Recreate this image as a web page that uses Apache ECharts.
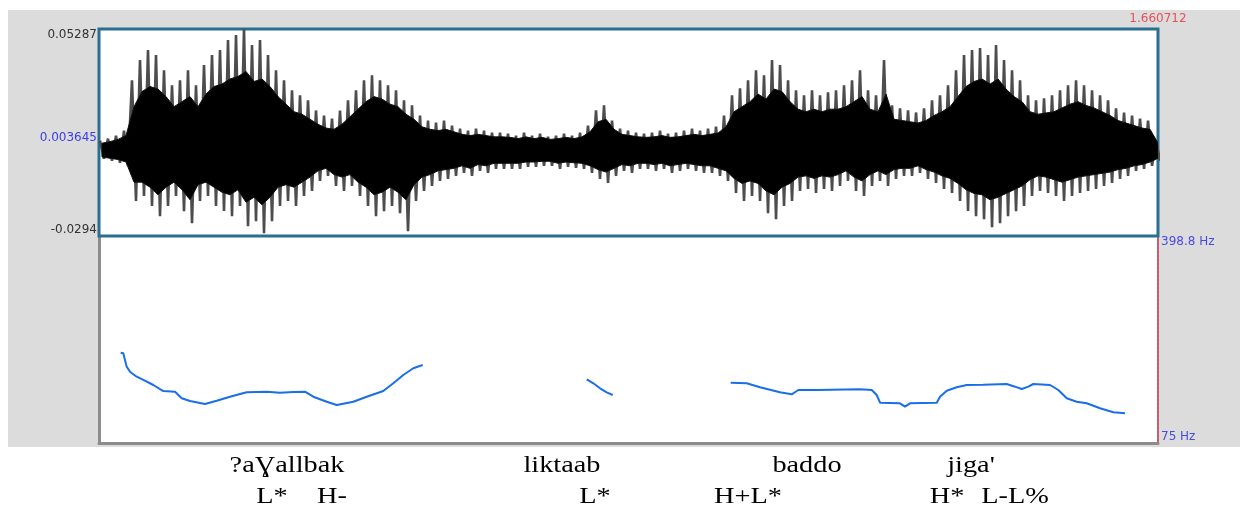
<!DOCTYPE html>
<html>
<head>
<meta charset="utf-8">
<script src="https://cdn.jsdelivr.net/npm/echarts@6/dist/echarts.min.js"></script>
<style>
html,body{margin:0;padding:0;background:#fff;}
#chart{width:1244px;height:510px;}
</style>
</head>
<body>
<div id="chart"></div>
<script>
// ---- Data ----
const duration = 1.660712;              // s
const pitchMin = 75, pitchMax = 398.8;  // Hz
const ampMin = -29.4, ampMax = 52.87;   // amplitude in thousandths
const ampLabels = ['-0.0294', '0.05287'];
const ampCursorLabel = '0.003645';
const timeLabel = '1.660712';
const pitchLabels = ['75 Hz', '398.8 Hz'];

// waveform envelope columns (thousandths), one column every waveStep seconds
const waveStart = 0.001568;
const waveStep = 0.012546;
const outerTop = [8.5,9.3,10.5,12.5,32.5,40.5,44.5,42.5,36.5,30.5,
  32.5,36.5,30.5,38.5,42.5,44.5,48.5,50.5,52.8,46.5,
  48.5,42.5,36.5,32.5,28.5,26.5,24.5,20.5,18.5,17.3,
  20.5,24.5,28.5,32.5,34.5,32.5,30.5,28.5,24.5,22.5,
  18.5,16.5,15.7,16.5,14.5,13.3,12.5,13.3,12.5,11.7,
  11.7,11.3,10.5,11.7,10.5,11.3,10.1,10.5,11.3,10.5,
  11.7,14.5,20.5,22.5,16.5,13.3,12.5,11.7,11.3,11.7,
  12.5,11.3,11.7,12.5,13.3,12.5,13.3,14.1,18.5,26.5,
  29.3,32.5,36.5,34.5,40.5,38.5,32.5,28.5,26.5,28.5,
  26.5,27.7,28.5,30.5,32.5,36.5,28.5,26.5,40.5,22.5,
  21.3,20.5,19.7,21.3,24.5,26.5,30.5,36.5,42.5,44.5,
  45.3,42.5,46.5,40.5,36.5,32.5,26.5,24.5,25.3,26.5,
  28.5,30.5,32.5,30.5,28.5,26.5,24.5,21.3,19.7,18.5,
  17.3,16.5,8.5];
const outerBottom = [1.3,0.5,-0.3,-1.5,-15.5,-13.5,-17.5,-21.5,-17.5,-13.5,
  -19.5,-24.3,-15.5,-13.5,-17.5,-19.5,-21.5,-17.5,-25.5,-23.5,
  -28.3,-23.5,-17.5,-15.5,-17.5,-13.5,-11.5,-7.5,-5.5,-9.5,
  -11.5,-9.5,-13.5,-17.5,-21.5,-19.5,-17.5,-20.3,-27.5,-15.5,
  -11.5,-9.5,-7.5,-6.7,-5.5,-4.3,-5.5,-3.5,-4.3,-2.7,
  -2.7,-2.7,-2.7,-1.9,-1.9,-1.5,-1.5,-2.7,-1.9,-2.3,
  -2.7,-4.3,-6.7,-8.3,-5.5,-3.5,-4.3,-2.7,-2.7,-3.5,
  -2.7,-4.3,-3.5,-2.7,-3.5,-4.3,-4.3,-5.5,-7.5,-12.3,
  -15.5,-13.5,-15.5,-20.3,-22.7,-17.5,-15.5,-11.5,-10.7,-12.3,
  -10.7,-11.5,-9.5,-7.5,-11.5,-13.5,-9.5,-7.5,-9.5,-6.7,
  -5.5,-5.5,-4.3,-6.7,-8.3,-10.7,-12.3,-15.5,-19.5,-21.5,
  -22.7,-25.9,-24.3,-21.5,-19.5,-17.5,-13.5,-11.5,-12.3,-13.5,
  -15.5,-13.5,-12.3,-11.5,-10.7,-9.5,-8.3,-6.7,-5.5,-3.5,
  -2.7,-1.5,0.5];
const coreTop = [7.5,8.1,9.0,10.5,22,28,30,29,26,22,
  24,26,22,27,30,31,33,34,36,32,
  33,30,26,23,20,19,17,15,13.5,13,
  15,18,21,24,26,25,23,22,19,17,
  14,13,12.5,13,12,11,10.5,11,10.5,10,
  10,9.8,9.3,10,9.3,9.8,9,9.3,9.8,9.3,
  10,12,16,17,13,11,10.5,10,9.8,10,
  10.5,9.8,10,10.5,11,10.5,11,11.5,14,20,
  22,24,27,25,29,28,24,21,20,21,
  20,21,21,22,24,26,21,20,27,17,
  16.5,16,15.5,16.5,18.5,20,22,26,30,32,
  33,31,33,29,26,24,20,19,19.5,20,
  21.5,23,24,22.5,21.5,20,18.5,16.5,15.5,14.5,
  13.5,13,7.5];
const coreBottom = [2,1.5,1,0,-8,-8,-10,-13,-10,-8,
  -11,-15,-9,-8,-10,-12,-13,-11,-16,-14,
  -17,-14,-10,-9,-10,-8,-6,-3.5,-2.5,-5,
  -6,-5,-8,-10,-13,-12,-10,-12,-15,-9,
  -6,-5,-3.5,-3,-2.5,-1.5,-2.5,-1,-1.5,-0.5,
  -0.5,-0.5,-0.5,0,0,0.3,0.3,-0.5,0,-0.3,
  -0.5,-1.5,-3,-4,-2.5,-1,-1.5,-0.5,-0.5,-1,
  -0.5,-1.5,-1,-0.5,-1,-1.5,-1.5,-2.5,-3.5,-6.5,
  -8.5,-7.5,-8.5,-11.5,-13,-10,-8.5,-6,-5.5,-6.5,
  -5.5,-6,-5,-3.5,-6,-7.5,-5,-3.5,-5,-3,
  -2.5,-2.5,-1.5,-3,-4,-5.5,-6.5,-8.5,-11,-12.5,
  -13,-15,-14,-12.5,-11,-9.5,-7,-5.5,-6,-7,
  -8,-7,-6,-5.5,-5,-4.5,-4,-3,-2.5,-1.5,
  -1,0,1.5];

// pitch track (null = unvoiced gap)
const pitchTime = [0.0340,0.0381,0.0434,0.0486,0.0591,0.0695,0.0852,0.1008,0.1192,0.1297,
  0.1427,0.1662,0.1846,0.2054,0.2316,0.2630,0.2838,0.3047,0.3230,0.3361,
  0.3571,0.3728,0.3988,0.4198,0.4458,0.4615,0.4772,0.4929,0.5076,
  0.60,
  0.7648,0.7752,0.7857,0.7962,0.8056,
  0.90,
  0.9906,1.0157,1.0366,1.0679,1.0863,1.0967,1.1255,1.1934,1.2118,1.2196,
  1.2248,1.2561,1.2640,1.2718,1.3137,1.3189,1.3294,1.3451,1.3607,1.3868,
  1.4234,1.4365,1.4470,1.4573,1.4652,1.4914,1.5044,1.5176,1.5332,1.5489,
  1.5698,1.5907,1.6090];
const pitchHz = [216.3,215.3,194.4,186.5,178.7,173.6,165.7,156.3,155.3,144.9,
  140.7,136.0,141.2,147.4,154.3,155.3,153.7,154.8,155.3,147.4,
  139.6,134.4,139.6,147.4,156.3,168.4,181.4,191.9,197.0,
  null,
  174.6,168.4,160.6,154.3,150.1,
  null,
  169.3,168.4,162.1,154.3,151.2,157.9,157.9,159.0,157.9,150.1,
  138.0,137.1,131.8,137.1,138.0,147.4,156.8,162.1,165.7,166.2,
  167.3,163.1,159.5,163.1,167.3,165.7,157.9,144.9,139.6,137.1,
  129.3,123.0,121.5];

// transcription tiers
const words = [
  {text: '?aƔallbak', x: 287},
  {text: 'liktaab', x: 562},
  {text: 'baddo', x: 807},
  {text: "jiga'", x: 971}
];
const tones = [
  {text: 'L*', x: 272},
  {text: 'H-', x: 332},
  {text: 'L*', x: 595},
  {text: 'H+L*', x: 748},
  {text: 'H*', x: 947},
  {text: 'L-L%', x: 1015}
];

// ---- Build tables ----
const n = Math.min(outerTop.length, outerBottom.length);
const outerWave = [];
for (let i = 0; i < n; i++) {
  const t = waveStart + i * waveStep;
  outerWave.push([t, outerTop[i]]);
  outerWave.push([t + waveStep / 2, outerBottom[i]]);
}
const m = Math.min(coreTop.length, coreBottom.length);
const coreRows = [];
for (let i = 0; i < m; i++) {
  coreRows.push([waveStart + i * waveStep + waveStep / 4, coreTop[i], coreBottom[i]]);
}
const pitchData = pitchTime.map((t, i) => [t, pitchHz[i]]);

const serif = '"Liberation Serif","Times New Roman","DejaVu Serif",serif';
const sans = '"DejaVu Sans","Liberation Sans",sans-serif';

const graphic = [
  {type: 'rect', z: -100, silent: true, shape: {x: 8, y: 10, width: 1232, height: 437}, style: {fill: '#dcdcdc'}},
  {type: 'text', x: 97, y: 138, z: 100, style: {text: ampCursorLabel, fill: '#3c3ce6', font: '12px ' + sans, textAlign: 'right', textVerticalAlign: 'middle'}}
];
words.forEach(w => graphic.push({type: 'text', x: w.x, y: 466, scaleX: 1.18, z: 100,
  style: {text: w.text, fill: '#000', font: '24px ' + serif, textAlign: 'center', textVerticalAlign: 'middle'}}));
tones.forEach(w => graphic.push({type: 'text', x: w.x, y: 497, scaleX: 1.18, z: 100,
  style: {text: w.text, fill: '#000', font: '24px ' + serif, textAlign: 'center', textVerticalAlign: 'middle'}}));

const noAxis = {axisTick: {show: false}, splitLine: {show: false}};

// core band: one polygon through the top values then back along the bottom values
function renderCore(params, api) {
  if (params.dataIndex !== 0) return null;
  const pts = [];
  for (let i = 0; i < coreRows.length; i++) pts.push(api.coord([coreRows[i][0], coreRows[i][1]]));
  for (let i = coreRows.length - 1; i >= 0; i--) pts.push(api.coord([coreRows[i][0], coreRows[i][2]]));
  return {type: 'polygon', shape: {points: pts}, style: {fill: '#000', stroke: '#111', lineWidth: 1}};
}

const option = {
  animation: false,
  backgroundColor: '#ffffff',
  graphic: graphic,
  grid: [
    {left: 99, top: 29, width: 1059, height: 207, show: true, backgroundColor: '#ffffff', borderColor: '#2b6f8e', borderWidth: 3, z: 1},
    {left: 99, top: 236, width: 1059, height: 207, show: true, backgroundColor: '#ffffff', borderWidth: 0, z: 0}
  ],
  xAxis: [
    Object.assign({gridIndex: 0, type: 'value', min: 0, max: duration, position: 'top',
      axisLine: {show: false},
      axisLabel: {customValues: [duration], formatter: () => timeLabel, color: '#e8505a', fontSize: 12, fontFamily: sans, margin: 4}}, noAxis),
    Object.assign({gridIndex: 1, type: 'value', min: 0, max: duration,
      axisLine: {show: true, onZero: false, lineStyle: {color: '#8c8c8c', width: 3}},
      axisLabel: {show: false}}, noAxis)
  ],
  yAxis: [
    Object.assign({gridIndex: 0, type: 'value', min: ampMin, max: ampMax,
      axisLine: {show: false},
      axisLabel: {customValues: [ampMin, ampMax], formatter: v => (v > 0 ? ampLabels[1] : ampLabels[0]),
        color: '#333', fontSize: 12, fontFamily: sans, margin: 2,
        verticalAlignMaxLabel: 'top', verticalAlignMinLabel: 'bottom'}}, noAxis),
    Object.assign({gridIndex: 0, type: 'value', position: 'right', min: ampMin, max: ampMax,
      axisLine: {show: true, lineStyle: {color: '#e35b6b', type: [2, 2], width: 2}},
      axisLabel: {show: false}}, noAxis),
    Object.assign({gridIndex: 1, type: 'value', min: pitchMin, max: pitchMax,
      axisLine: {show: true, onZero: false, lineStyle: {color: '#8c8c8c', width: 3}},
      axisLabel: {show: false}}, noAxis),
    Object.assign({gridIndex: 1, type: 'value', position: 'right', min: pitchMin, max: pitchMax,
      axisLine: {show: true, onZero: false, lineStyle: {color: '#2b6f8e', width: 2}},
      axisLabel: {customValues: [pitchMin, pitchMax], formatter: v => (v > 200 ? pitchLabels[1] : pitchLabels[0]),
        color: '#4a4ae0', fontSize: 12, fontFamily: sans, margin: 3,
        verticalAlignMaxLabel: 'top', verticalAlignMinLabel: 'bottom'}}, noAxis),
    Object.assign({gridIndex: 1, type: 'value', position: 'right', min: pitchMin, max: pitchMax,
      axisLine: {show: true, onZero: false, lineStyle: {color: '#e35b6b', type: [2, 2], width: 2}},
      axisLabel: {show: false}}, noAxis)
  ],
  series: [
    {type: 'line', xAxisIndex: 0, yAxisIndex: 0, data: outerWave, showSymbol: false, symbol: 'none',
      lineStyle: {color: '#4d4d4d', width: 2.6, join: 'bevel'}, silent: true, z: 2},
    {type: 'custom', xAxisIndex: 0, yAxisIndex: 0, data: coreRows, renderItem: renderCore,
      encode: {x: 0, y: [1, 2]}, silent: true, z: 3, clip: true},
    {type: 'line', xAxisIndex: 1, yAxisIndex: 2, data: pitchData, showSymbol: false, symbol: 'none',
      connectNulls: false, lineStyle: {color: '#1a6ee8', width: 2}, silent: true, z: 4}
  ]
};

const chart = echarts.init(document.getElementById('chart'), null, {renderer: 'canvas'});
chart.setOption(option);
</script>
</body>
</html>
